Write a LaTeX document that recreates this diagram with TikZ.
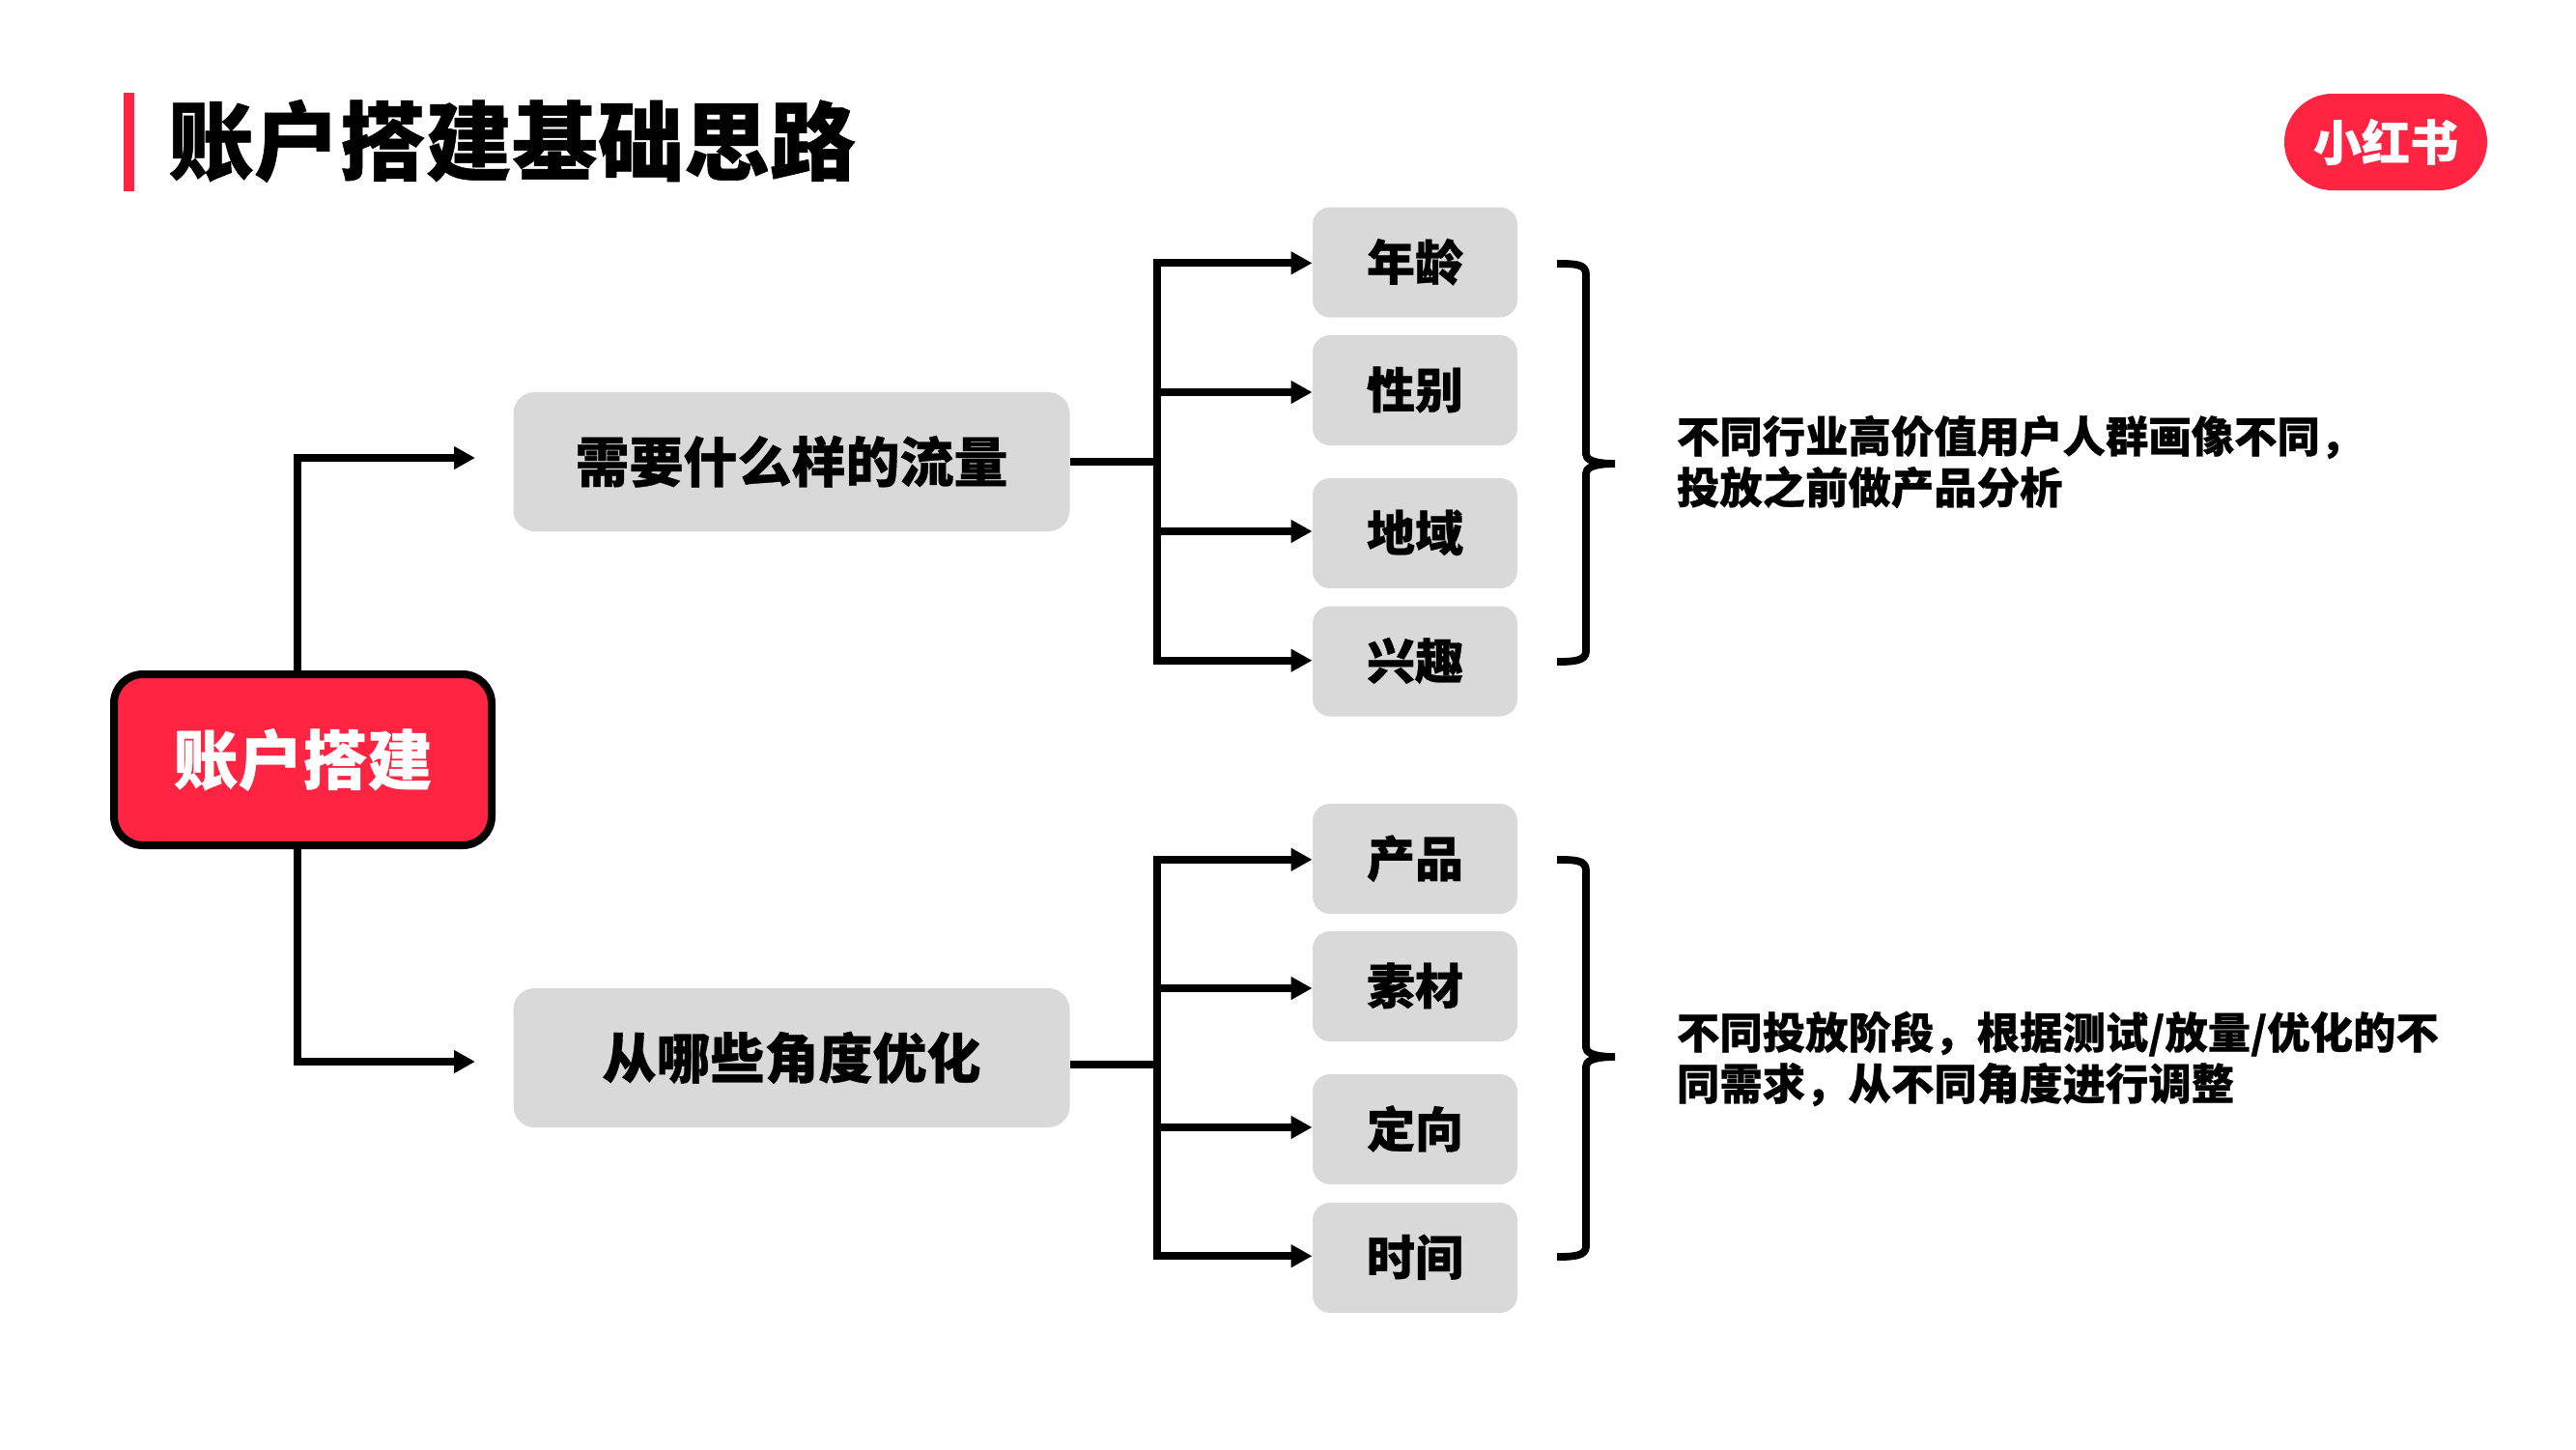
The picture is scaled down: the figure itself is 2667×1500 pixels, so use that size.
\documentclass[tikz,border=0pt]{standalone}
\usepackage{fontspec}
\usetikzlibrary{arrows.meta}
\newfontfamily\cjk[FakeBold=0.6]{Noto Sans CJK SC Black}
\definecolor{rb}{HTML}{FF2442}
\definecolor{gb}{HTML}{D9D9D9}
\newcommand\lift[1]{\raisebox{3pt}{#1}}
\tikzset{
 wire/.style={line width=4pt,draw=black,line cap=butt,line join=miter},
 tip/.style={-{Triangle[length=11pt,width=11.3pt]}},
 tips/.style={{Triangle[length=11pt,width=11.3pt]}-{Triangle[length=11pt,width=11.3pt]}},
 bigbox/.style={fill=gb,rounded corners=11pt,minimum width=288pt,minimum height=72pt,inner sep=0pt,font=\cjk\fontsize{28pt}{28pt}\selectfont},
 smallbox/.style={fill=gb,rounded corners=9pt,minimum width=106pt,minimum height=57pt,inner sep=0pt,font=\cjk\fontsize{25pt}{25pt}\selectfont},
 rootbox/.style={fill=rb,draw=black,line width=4pt,rounded corners=15pt,minimum width=195.5pt,minimum height=88.5pt,inner sep=0pt,text=white,font=\cjk\fontsize{33.5pt}{33.5pt}\selectfont},
 note/.style={anchor=west,align=left,inner sep=0pt,font=\cjk\fontsize{22.2pt}{26.5pt}\selectfont},
 brace/.style={line width=3.9pt,draw=black,line cap=butt},
}
\begin{document}
\begin{tikzpicture}[x=0.5pt,y=-0.5pt]
\useasboundingbox (0,0) rectangle (2667,1500);
% title
\fill[rb] (128,96) rectangle (139,198);
\node[anchor=west,inner sep=0pt,font=\cjk\fontsize{44.5pt}{44.5pt}\selectfont] (title) at (173.5,146) {账户搭建基础思路};
% logo
\node[fill=rb,rounded corners=25pt,minimum width=105pt,minimum height=50pt,inner sep=0pt,text=white,font=\cjk\fontsize{25pt}{25pt}\selectfont] (logo) at (2470,147) {小红书};
% main boxes
\node[rootbox] (root) at (313.5,786.5) {\lift{账户搭建}};
\node[bigbox] (a) at (819.5,478) {\lift{需要什么样的流量}};
\node[bigbox] (c) at (819.5,1095) {\lift{从哪些角度优化}};
\node[smallbox] (a1) at (1465,271.5) {\lift{年龄}};
\node[smallbox] (a2) at (1465,404) {\lift{性别}};
\node[smallbox] (a3) at (1465,552) {\lift{地域}};
\node[smallbox] (a4) at (1465,684.5) {\lift{兴趣}};
\node[smallbox] (c1) at (1465,889) {\lift{产品}};
\node[smallbox] (c2) at (1465,1021) {\lift{素材}};
\node[smallbox] (c3) at (1465,1169) {\lift{定向}};
\node[smallbox] (c4) at (1465,1302) {\lift{时间}};
% arrow targets
\coordinate (pa1) at ([yshift=-.4pt]a1.west);
\coordinate (pa2) at ([yshift=-1pt]a2.west);
\coordinate (pa3) at ([yshift=1pt]a3.west);
\coordinate (pa4) at ([yshift=.4pt]a4.west);
\coordinate (pc1) at ([yshift=-.4pt]c1.west);
\coordinate (pc2) at ([yshift=-1pt]c2.west);
\coordinate (pc3) at ([yshift=1pt]c3.west);
\coordinate (pc4) at ([yshift=.9pt]c4.west);
% root connectors
\coordinate (ta) at (492,474);
\coordinate (tc) at (492,1099);
\draw[wire,tip] ([xshift=-2.75pt]root.north) |- (ta);
\draw[wire,tip] ([xshift=-2.75pt]root.south) |- (tc);
% bus a
\coordinate (ba) at (1198,478);
\draw[wire] (a.east |- ba) -- (ba);
\draw[wire,tips] (pa1) -- (ba |- pa1) -- (ba |- pa4) -- (pa4);
\draw[wire,tip] (ba |- pa2) -- (pa2);
\draw[wire,tip] (ba |- pa3) -- (pa3);
% bus c
\coordinate (bc) at (1198,1102);
\draw[wire] (c.east |- bc) -- (bc);
\draw[wire,tips] (pc1) -- (bc |- pc1) -- (bc |- pc4) -- (pc4);
\draw[wire,tip] (bc |- pc2) -- (pc2);
\draw[wire,tip] (bc |- pc3) -- (pc3);
% braces
\coordinate (ma) at (1672,480);
\coordinate (mc) at (1672,1094);
\draw[brace] (1612,273) .. controls (1630,273) and (1642,273) .. (1642,284) -- (1642,470) .. controls (1642,475) and (1648,480) .. (ma) .. controls (1648,480) and (1642,485) .. (1642,490) -- (1642,674) .. controls (1642,684) and (1630,685) .. (1612,685);
\draw[brace] (1612,890) .. controls (1630,890) and (1642,890) .. (1642,901) -- (1642,1084) .. controls (1642,1089) and (1648,1094) .. (mc) .. controls (1648,1094) and (1642,1099) .. (1642,1104) -- (1642,1290) .. controls (1642,1300) and (1630,1301) .. (1612,1301);
% notes
\node[note] (na) at (1735.5,478) {不同行业高价值用户人群画像不同，\\投放之前做产品分析};
\node[note] (nc) at (1735.5,1096) {不同投放阶段，根据测试/放量/优化的不\\同需求，从不同角度进行调整};
\end{tikzpicture}
\end{document}
